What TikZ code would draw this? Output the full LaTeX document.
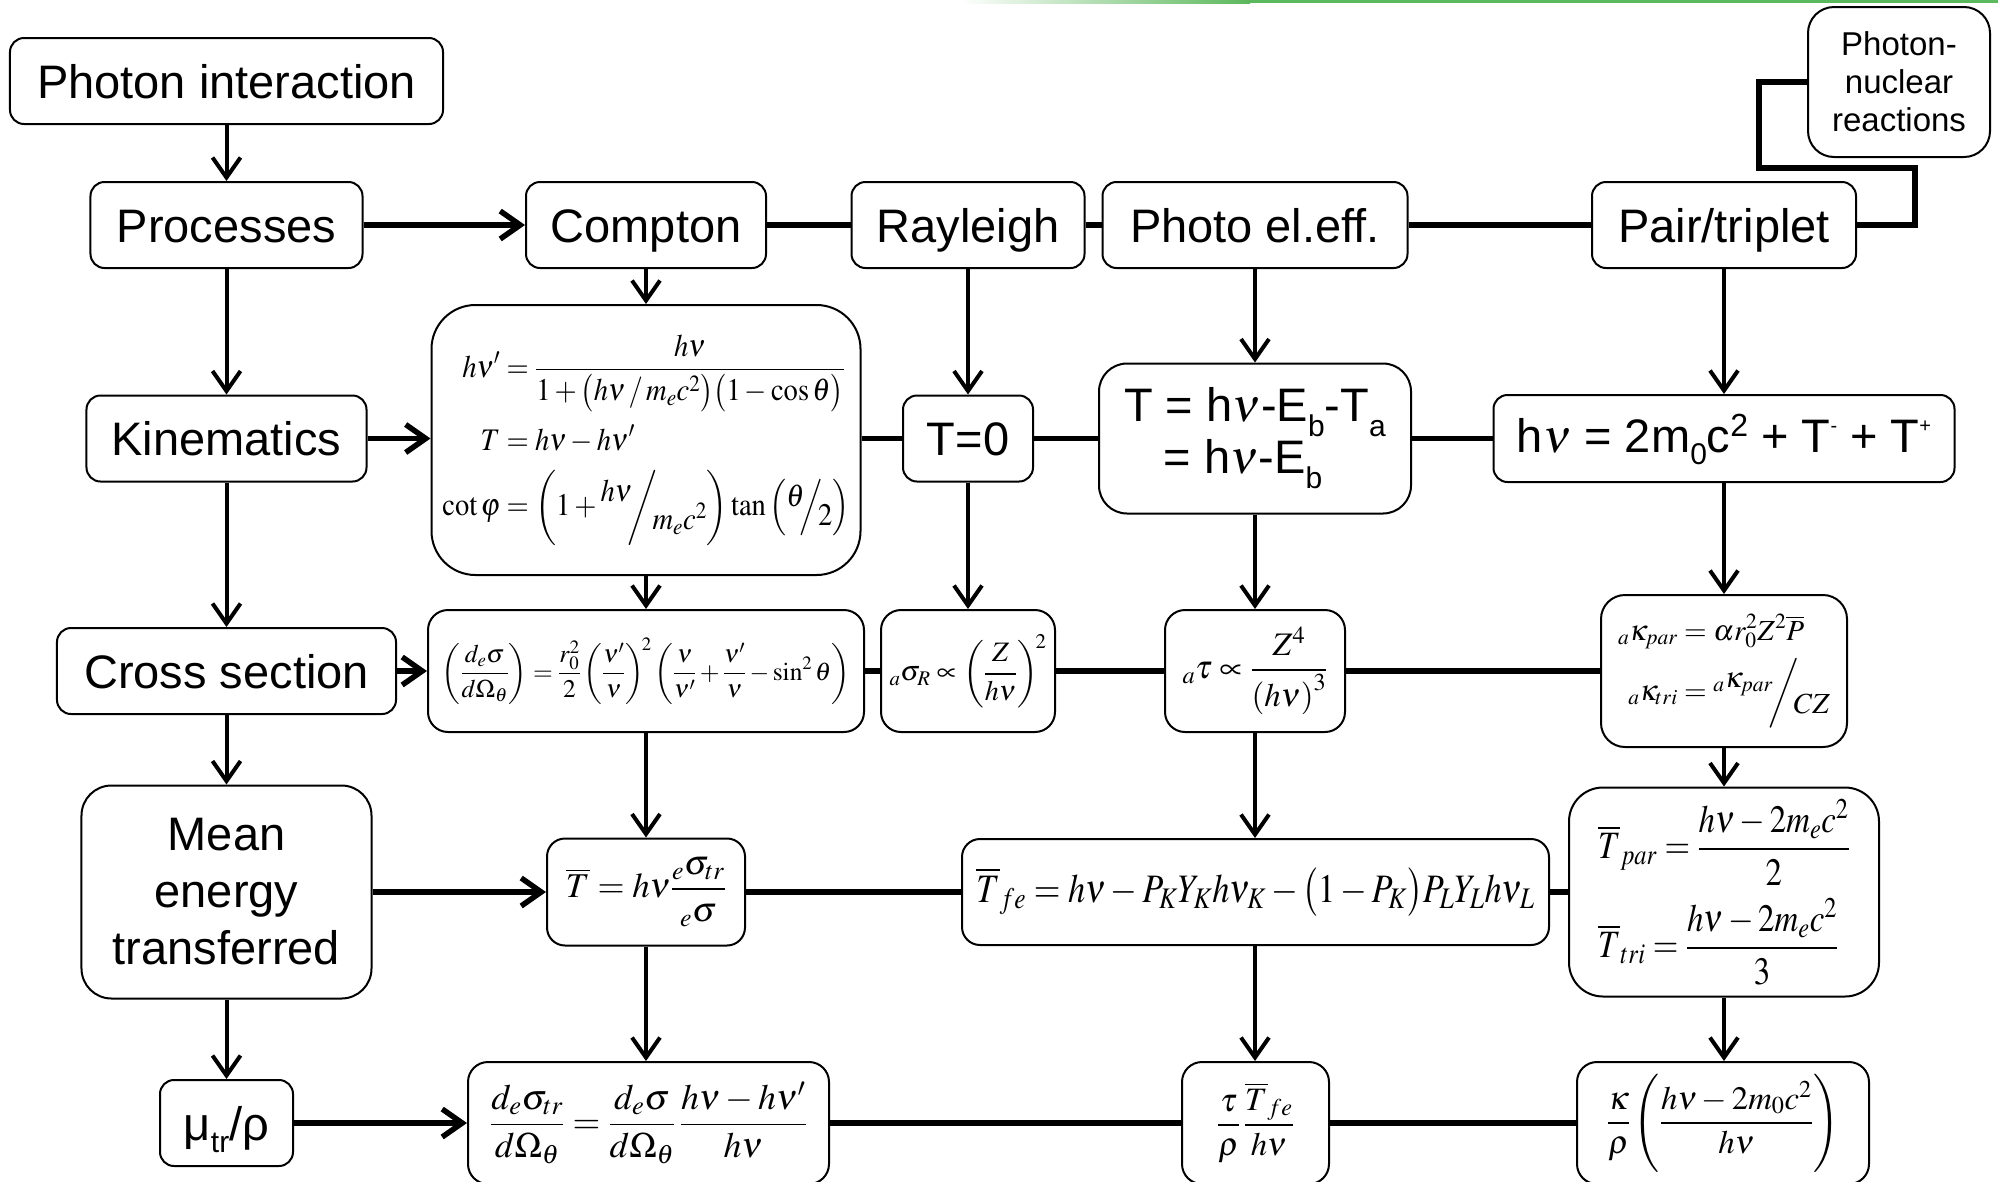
\documentclass[tikz,border=0pt]{standalone}
\usepackage{mathptmx}
\usepackage[no-math]{fontspec}
\setmainfont{Liberation Sans}
\usepackage{graphicx}
\usepackage{amsmath}
\usetikzlibrary{arrows.meta}
\definecolor{gline}{RGB}{92,184,92}
\newcommand\lowtxt[2][15bp]{\raisebox{-#1}{\fontsize{30bp}{30bp}\selectfont #2}}
\newcommand\slf[4]{\raisebox{#4}{$#1$}\mkern-3mu#3/\mkern-3mu\raisebox{-#4}{$#2$}}
\begin{document}
\begin{tikzpicture}[x=1bp,y=-1bp,
  bx/.style={draw,line width=2bp,rounded corners=#1,inner sep=0pt,align=center},
  bx/.default=14bp,
  big/.style={font=\fontsize{47bp}{56bp}\selectfont,text height=40bp,text depth=6bp},
  mth/.style={font=\fontsize{30bp}{36bp}\selectfont},
  varr/.style={line width=4bp,-{Straight Barb[length=20bp,width=28bp]}},
  harr/.style={line width=5.5bp,-{Straight Barb[length=20bp,width=28bp]}},
  hln/.style={line width=5.5bp}]
\useasboundingbox (0,0) rectangle (1998,1181);
\fill[white] (0,0) rectangle (1998,1181);
\shade[left color=white,right color=gline] (960,0) rectangle (1250,3);
\fill[gline] (1250,0) rectangle (1998,3);
% row 1
\node[bx,big,minimum width=433bp,minimum height=86bp] (pi) at (226.5,81) {Photon interaction};
\node[bx,big,minimum width=272bp,minimum height=86bp] (proc) at (226.5,225) {Processes};
\node[bx,big,minimum width=240bp,minimum height=86bp] (comp) at (646,225) {Compton};
\node[bx,big,minimum width=233bp,minimum height=86bp] (ray) at (968,225) {Rayleigh};
\node[bx,big,minimum width=305bp,minimum height=86bp] (phot) at (1255,225) {Photo el.eff.};
\node[bx,big,minimum width=264bp,minimum height=86bp] (pair) at (1724,225) {Pair/triplet};
\node[bx=26bp,font=\fontsize{33bp}{38bp}\selectfont,minimum width=182bp,minimum height=150bp] (pn) at (1899,82) {Photon-\\nuclear\\reactions};
% row 2
\node[bx,big,minimum width=280bp,minimum height=86bp] (kin) at (226.5,438.5) {Kinematics};
\node[bx=44bp,mth,minimum width=429bp,minimum height=270bp] (ckin) at (646,440) {\resizebox*{407bp}{211bp}{$\begin{aligned} h\nu' &= \frac{h\nu}{1+\bigl(h\nu\,/\,m_ec^2\bigr)\bigl(1-\cos\theta\bigr)}\\[8pt] T &= h\nu-h\nu'\\[4pt] \cot\varphi &= \left(1+\slf{h\nu}{m_ec^2}{\bigg}{0.45em}\right)\tan\left(\slf{\theta}{2}{\Big}{0.3em}\right)\end{aligned}$}};
\node[bx,big,minimum width=130bp,minimum height=86bp] (tz) at (968,438.5) {T=0};
\node[bx=28bp,font=\fontsize{47bp}{52bp}\selectfont,minimum width=312bp,minimum height=150bp] (pkin) at (1255,438.5) {T = h$\nu$-E\lowtxt{b}-T\lowtxt{a}\\= h$\nu$-E\lowtxt{b}\hspace*{24bp}};
\node[bx,font=\fontsize{47bp}{56bp}\selectfont,text height=36bp,text depth=9bp,minimum width=461bp,minimum height=87bp] (prkin) at (1724,438.5) {h$\nu$ = 2m\lowtxt[12bp]{0}c\raisebox{16bp}{\fontsize{32bp}{32bp}\selectfont 2} + T\raisebox{20bp}{\fontsize{20bp}{20bp}\selectfont -} + T\raisebox{20bp}{\fontsize{20bp}{20bp}\selectfont +}};
% row 3
\node[bx,big,minimum width=339bp,minimum height=86bp] (cs) at (226.5,671) {Cross section};
\node[bx=20bp,mth,minimum width=436bp,minimum height=122bp] (ccs) at (646,671) {\resizebox{408bp}{!}{$\left(\dfrac{d_e\sigma}{d\Omega_\theta}\right)=\dfrac{r_0^2}{2}\left(\dfrac{\nu'}{\nu}\right)^{\!2}\left(\dfrac{\nu}{\nu'}+\dfrac{\nu'}{\nu}-\sin^2\theta\right)$}};
\node[bx=20bp,mth,minimum width=174bp,minimum height=122bp] (rcs) at (968,671) {\resizebox{157bp}{!}{${}_a\sigma_R\propto\left(\dfrac{Z}{h\nu}\right)^{\!2}$}};
\node[bx=20bp,mth,minimum width=180bp,minimum height=122bp] (pcs) at (1255,671) {\resizebox{145bp}{!}{${}_a\tau\propto\dfrac{Z^4}{\left(h\nu\right)^3}$}};
\node[bx=24bp,mth,minimum width=246bp,minimum height=152bp] (prcs) at (1724,671) {\resizebox{212bp}{!}{$\begin{aligned}{}_a\kappa_{par}&=\alpha r_0^2Z^2\overline{P}\\[4pt]{}_a\kappa_{tri}&=\slf{{}_a\kappa_{par}}{CZ}{\bigg}{0.45em}\end{aligned}$}};
% row 4
\node[bx=30bp,font=\fontsize{47bp}{57bp}\selectfont,minimum width=290bp,minimum height=213bp] (mean) at (226.5,892) {Mean\\energy\\transferred};
\node[bx=18bp,mth,minimum width=198bp,minimum height=107bp] (ct) at (646,892) {\resizebox{160bp}{!}{$\overline{T}=h\nu\dfrac{{}_e\sigma_{tr}}{{}_e\sigma}$}};
\node[bx=18bp,mth,minimum width=587bp,minimum height=106bp] (pt) at (1255.5,892) {\resizebox{558bp}{!}{\scalebox{0.85}[1]{$\overline{T}_{fe}=h\nu-P_KY_Kh\nu_K-\bigl(1-P_K\bigr)P_LY_Lh\nu_L$}}};
\node[bx=34bp,mth,minimum width=310bp,minimum height=209bp] (prt) at (1724,892) {\resizebox{252bp}{!}{\scalebox{0.85}[1]{$\begin{aligned}&\overline{T}_{par}=\dfrac{h\nu-2m_ec^2}{2}\\[6pt]&\overline{T}_{tri}=\dfrac{h\nu-2m_ec^2}{3}\end{aligned}$}}};
% row 5
\node[bx,big,minimum width=133bp,minimum height=86bp] (mu) at (226.5,1123) {μ\lowtxt[12bp]{tr}/ρ};
\node[bx=20bp,mth,minimum width=361bp,minimum height=122bp] (cmu) at (648.5,1123) {\resizebox{317bp}{!}{$\dfrac{d_e\sigma_{tr}}{d\Omega_\theta}=\dfrac{d_e\sigma}{d\Omega_\theta}\,\dfrac{h\nu-h\nu'}{h\nu}$}};
\node[bx=20bp,mth,minimum width=147bp,minimum height=122bp] (pmu) at (1255.5,1123) {\resizebox{77bp}{!}{$\dfrac{\tau}{\rho}\,\dfrac{\overline{T}_{fe}}{h\nu}$}};
\node[bx=20bp,mth,minimum width=292bp,minimum height=122bp] (prmu) at (1723,1123) {\resizebox{232bp}{!}{$\dfrac{\kappa}{\rho}\left(\dfrac{h\nu-2m_0c^2}{h\nu}\right)$}};
% column 1
\draw[varr] (pi.south) -- (proc.north);
\draw[varr] (proc.south) -- (kin.north);
\draw[varr] (kin.south) -- (cs.north);
\draw[varr] (cs.south) -- (mean.north);
\draw[varr] (mean.south) -- (mu.north);
% Compton column
\draw[varr] (comp.south) -- (ckin.north);
\draw[varr] (ckin.south) -- (ccs.north);
\draw[varr] (ccs.south) -- (ct.north);
\draw[varr] (ct.south) -- (ct.south |- cmu.north);
% Rayleigh column
\draw[varr] (ray.south) -- (tz.north);
\draw[varr] (tz.south) -- (rcs.north);
% Photo column
\draw[varr] (phot.south) -- (pkin.north);
\draw[varr] (pkin.south) -- (pcs.north);
\draw[varr] (pcs.south) -- (pcs.south |- pt.north);
\draw[varr] (pcs.south |- pt.south) -- (pcs.south |- pmu.north);
% Pair column
\draw[varr] (pair.south) -- (prkin.north);
\draw[varr] (prkin.south) -- (prcs.north);
\draw[varr] (prcs.south) -- (prt.north);
\draw[varr] (prt.south) -- (prt.south |- prmu.north);
% rows
\draw[harr] (proc.east) -- (comp.west);
\draw[hln] (comp.east) -- (ray.west);
\draw[hln] (ray.east) -- (phot.west);
\draw[hln] (phot.east) -- (pair.west);
\coordinate (k1) at (1915,225);
\coordinate (k2) at (1915,168);
\coordinate (k3) at (1759,168);
\coordinate (k4) at (1759,82);
\draw[hln] (pair.east) -- (k1) -- (k2) -- (k3) -- (k4) -- (pn.west);
\draw[harr] (kin.east) -- (kin.east -| ckin.west);
\draw[hln] (tz.west -| ckin.east) -- (tz.west);
\draw[hln] (tz.east) -- (pkin.west);
\draw[hln] (pkin.east) -- (prkin.west);
\draw[harr] (cs.east) -- (ccs.west);
\draw[hln] (ccs.east) -- (rcs.west);
\draw[hln] (rcs.east) -- (pcs.west);
\draw[hln] (pcs.east) -- (prcs.west);
\draw[harr] (mean.east) -- (ct.west);
\draw[hln] (ct.east) -- (pt.west);
\draw[hln] (pt.east) -- (prt.west);
\draw[harr] (mu.east) -- (cmu.west);
\draw[hln] (cmu.east) -- (pmu.west);
\draw[hln] (pmu.east) -- (prmu.west);
\end{tikzpicture}
\end{document}
